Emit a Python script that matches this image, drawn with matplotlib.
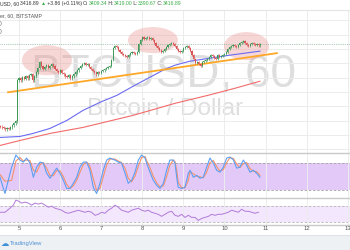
import matplotlib
matplotlib.use("Agg")
import matplotlib.pyplot as plt
from matplotlib.patches import Ellipse, Rectangle
from matplotlib.lines import Line2D

W, H = 350, 250

# ---- data (time in hours counted from day 4 00:00) ----
day_labels = ["5", "6", "7", "8", "9", "10", "11", "12", "13"]
day_hours = [24, 48, 72, 96, 120, 144, 168, 192, 216]

candle_start_hour = 13
first_open = 3133
closes = [
    3130, 3127, 3124, 3120, 3124, 3123, 3127, 3134, 3141, 3148,
    3291, 3298, 3291, 3302, 3295, 3305, 3298, 3309, 3312, 3291,
    3305, 3319, 3333, 3354, 3340, 3330, 3337, 3344, 3333, 3340,
    3347, 3340, 3330, 3323, 3319, 3326, 3316, 3312, 3305, 3302,
    3309, 3298, 3305, 3312, 3319, 3326, 3333, 3340, 3347, 3351,
    3344, 3347, 3337, 3330, 3323, 3319, 3312, 3319, 3316, 3323,
    3326, 3330, 3333, 3337, 3340, 3361, 3403, 3410, 3407, 3396,
    3389, 3382, 3379, 3375, 3372, 3379, 3386, 3389, 3386, 3382,
    3389, 3417, 3431, 3442, 3435, 3438, 3442, 3435, 3438, 3431,
    3421, 3410, 3403, 3396, 3389, 3393, 3400, 3407, 3414, 3417,
    3421, 3417, 3410, 3400, 3393, 3389, 3393, 3403, 3407, 3410,
    3403, 3393, 3379, 3365, 3351, 3354, 3347, 3340, 3354, 3358,
    3361, 3365, 3372, 3379, 3375, 3368, 3365, 3379, 3372, 3375,
    3379, 3382, 3389, 3400, 3407, 3410, 3414, 3410, 3407, 3414,
    3421, 3424, 3428, 3421, 3414, 3410, 3417, 3421, 3417, 3414,
    3417, 3413, 3416.89,
]
last_price = 3416.89

ma100_hours = [12.9, 24.6, 32.2, 42.1, 52.0, 61.4, 71.3, 81.2, 90.6, 100.5,
               109.2, 115.1, 123.8, 135.5, 147.2, 164.7]
ma100_values = [3092, 3095.5, 3106, 3123.5, 3151.5, 3186.5, 3214.5, 3239, 3270.5,
                3302, 3330, 3344, 3358, 3368.5, 3379, 3393]
ma200_hours = [12.9, 24.6, 42.1, 61.4, 90.6, 115.1, 134.4, 150.1, 164.7]
ma200_values = [3064, 3081.5, 3106, 3127, 3169, 3211, 3239, 3263.5, 3288]

trend_hours = [17.6, 174.6]
trend_values = [3249.5, 3386]

# highlighted tops: (hour, price, width in hours, height in price)
tops = [(40.3, 3361.5, 29.2, 105), (102.2, 3431.5, 29.2, 91), (156.8, 3410.5, 26.3, 98)]

stoch_hours = [12.9, 15.8, 19.7, 22.2, 24.6, 26.5, 28.5, 30.4, 32.4, 34.3,
               36.3, 38.2, 40.1, 42.1, 44.0, 46.0, 47.9, 49.9, 51.8, 53.8,
               55.7, 57.7, 59.6, 61.6, 63.5, 65.4, 67.4, 69.3, 71.3, 73.2,
               75.2, 77.1, 80.0, 82.0, 83.9, 85.9, 87.8, 89.8, 91.7, 93.7,
               95.6, 97.6, 98.5, 100.5, 102.4, 104.4, 106.3, 108.3, 110.2, 112.1,
               114.1, 115.1, 116.1, 117.0, 119.0, 120.9, 122.9, 123.9, 125.8, 127.8,
               129.7, 131.6, 133.6, 135.5, 137.5, 139.4, 141.4, 143.3, 145.3, 147.2,
               149.2, 151.1, 153.0, 155.0, 156.9, 158.9, 160.8, 162.8, 164.7]
stoch_k = [48.9, 13.3, 71.1, 97.8, 86.7, 82.2, 91.1, 80, 48.9, 71.1,
           82.2, 80, 57.8, 46.7, 57.8, 68.9, 57.8, 42.2, 24.4, 24.4,
           35.6, 48.9, 71.1, 82.2, 82.2, 64.4, 26.7, 13.3, 35.6, 64.4,
           86.7, 91.1, 86.7, 82.2, 80, 57.8, 35.6, 42.2, 60, 86.7,
           97.8, 91.1, 80, 60, 42.2, 31.1, 24.4, 35.6, 64.4, 86.7,
           86.7, 80, 48.9, 26.7, 24.4, 26.7, 57.8, 64.4, 48.9, 53.3,
           46.7, 48.9, 71.1, 91.1, 80, 64.4, 60, 71.1, 91.1, 93.3,
           86.7, 68.9, 71.1, 86.7, 75.6, 60, 64.4, 57.8, 48.9]
stoch_d = [55, 40, 42.2, 84.5, 92.3, 84.5, 86.7, 85.6, 64.5, 60,
           76.7, 81.1, 68.9, 52.3, 52.3, 63.4, 63.4, 50, 33.3, 24.4,
           30, 42.3, 60, 76.7, 82.2, 73.3, 45.6, 20, 24.5, 50,
           75.6, 88.9, 88.9, 84.5, 81.1, 68.9, 46.7, 38.9, 51.1, 73.4,
           92.3, 94.5, 85.6, 70, 51.1, 36.7, 27.8, 30, 50, 75.6,
           86.7, 83.4, 64.5, 37.8, 25.6, 25.6, 42.3, 61.1, 56.7, 51.1,
           50, 47.8, 60, 81.1, 85.6, 72.2, 62.2, 65.6, 81.1, 92.2,
           90, 77.8, 70, 78.9, 81.2, 67.8, 62.2, 61.1, 53.4]

rsi_hours = [12.9, 15.8, 18.7, 20.7, 22.2, 23.6, 25.5, 27.5, 29.4, 31.4,
             33.3, 35.3, 37.2, 39.2, 41.1, 43.1, 45.0, 47.0, 48.9, 50.8,
             52.8, 54.7, 56.7, 58.6, 60.6, 62.5, 64.5, 66.4, 68.4, 70.3,
             72.3, 74.2, 76.1, 78.1, 80.0, 82.0, 83.9, 85.9, 87.8, 89.8,
             91.7, 93.7, 95.6, 97.6, 99.5, 101.4, 103.4, 105.3, 107.3, 109.2,
             111.2, 113.1, 115.1, 117.0, 119.0, 120.9, 122.9, 124.8, 126.8, 128.7,
             130.7, 132.6, 134.6, 136.5, 138.5, 140.4, 142.3, 144.3, 146.2, 148.2,
             150.1, 152.1, 154.0, 156.0, 157.9, 159.9, 161.8, 163.8]
rsi_values = [55, 55, 65, 72.5, 85, 82.5, 77.5, 80, 77.5, 72.5,
              77.5, 75, 77.5, 72.5, 67.5, 70, 65, 62.5, 60, 55,
              52.5, 55, 57.5, 60, 57.5, 55, 57.5, 55, 47.5, 50,
              55, 52.5, 60, 65, 72.5, 67.5, 60, 57.5, 55, 60,
              62.5, 65, 60, 57.5, 60, 55, 52.5, 50, 45, 50,
              55, 57.5, 47.5, 45, 50, 42.5, 47.5, 42.5, 42.5, 35,
              40, 42.5, 45, 50, 47.5, 50, 50, 52.5, 55, 60,
              57.5, 55, 62.5, 57.5, 57.5, 55, 52.5, 55]

# ---- layout ----
fig = plt.figure(figsize=(W / 100, H / 100), dpi=100)
fig.patch.set_facecolor("white")


def ax_at(top_px, bottom_px):
    return fig.add_axes([0, 1 - bottom_px / H, 1, (bottom_px - top_px) / H])


ax = ax_at(10, 152.5)
ax_st = ax_at(153, 197.5)
ax_rsi = ax_at(198, 224.5)

xlim = (12.9, 217.3)
grid_c = "#ececec"
for a in (ax, ax_st, ax_rsi):
    a.set_xlim(*xlim)
    a.set_xticks(day_hours)
    a.tick_params(left=False, bottom=False, labelleft=False, labelbottom=False)
    for s in a.spines.values():
        s.set_visible(False)
    a.grid(axis="x", color=grid_c, lw=0.7, zorder=0)

# main price pane
ax.set_ylim(3039.5, 3536.5)
ax.set_yticks(range(3050, 3550, 50))
ax.grid(axis="y", color=grid_c, lw=0.7, zorder=0)

sans = ["Liberation Sans", "DejaVu Sans"]
ax.text(0.467, 0.458, "BTCUSD, 60", transform=ax.transAxes, ha="center", va="baseline",
        fontsize=33, color="#dedede", family=sans, zorder=1)
ax.text(0.471, 0.261, "Bitcoin / Dollar", transform=ax.transAxes, ha="center", va="baseline",
        fontsize=17.5, color="#dedede", family=sans, zorder=1)

for hx, py, wx, hy in tops:
    ax.add_patch(Ellipse((hx, py), wx, hy, facecolor="#ec9a9a", alpha=0.4,
                         edgecolor="none", zorder=2))

ax.axhline(last_price, color="#8db89c", lw=0.6, ls=(0, (1, 1.2)), zorder=2)
ax.plot(ma200_hours, ma200_values, color="#f26b6b", lw=0.8, zorder=3)
ax.plot(ma100_hours, ma100_values, color="#6b6bf2", lw=0.8, zorder=3)
ax.plot(trend_hours, trend_values, color="#ffa726", lw=1.3, zorder=4)

opens = [first_open] + closes[:-1]
up_c, dn_c = "#3f9a5a", "#d95555"
for i, (o, c) in enumerate(zip(opens, closes)):
    h = candle_start_hour + i
    col = up_c if c >= o else dn_c
    lo, hi = min(o, c), max(o, c)
    ax.vlines(h, lo - 4, hi + 4, color=col, lw=0.5, zorder=5)
    ax.bar(h, max(hi - lo, 1.5), bottom=lo, width=0.65, color=col, lw=0, zorder=5)

# stochastic pane
ax_st.set_ylim(4.4, 102.2)
ax_st.axhspan(20, 80, color="#e2c9f8", lw=0, zorder=0.5)
for lv in (20, 80):
    ax_st.axhline(lv, color="#a3a3a3", lw=0.6, ls=(0, (3, 2)), zorder=1)
ax_st.plot(stoch_hours, stoch_d, color="#f5926a", lw=0.8, zorder=3)
ax_st.plot(stoch_hours, stoch_k, color="#5c9ff2", lw=0.8, zorder=4)

# RSI pane
ax_rsi.set_ylim(25, 90)
ax_rsi.axhspan(30, 70, color="#f3e7fd", lw=0, zorder=0.5)
for lv in (30, 70):
    ax_rsi.axhline(lv, color="#b5b5b5", lw=0.6, ls=(0, (3, 2)), zorder=1)
ax_rsi.plot(rsi_hours, rsi_values, color="#b07ad8", lw=0.7, zorder=3)

# separators
for ypx, col, lw in [(10, "#e3e5e8", 0.8), (152.5, "#c8cacc", 1.0),
                     (197.5, "#c8cacc", 1.0), (224.5, "#c8cacc", 1.0), (234.5, "#dfe2e6", 0.8)]:
    fig.add_artist(Line2D([0, 1], [1 - ypx / H] * 2, color=col, lw=lw))

# time axis labels
for h, lab in zip(day_hours, day_labels):
    xpx = (h - xlim[0]) / (xlim[1] - xlim[0]) * W
    fig.text(xpx / W, 1 - 229 / H, lab, ha="center", va="center", fontsize=4.2,
             color="#555555", family=sans)

# bottom bar
fig.add_artist(Rectangle((0, 0), 1, 1 - 235 / H, transform=fig.transFigure,
                         facecolor="#eef1f4", edgecolor="none"))
fig.text(1 / W, 1 - 243 / H, "\u2601", fontsize=6, color="#3d8fd6", va="center",
         family=["DejaVu Sans"])
fig.text(10 / W, 1 - 243 / H, "TradingView", fontsize=4.2, color="#4a8fd4", va="center",
         family=sans)

# header texts
renderer = fig.canvas.get_renderer()
green = "#3aae48"
dark = "#333333"


def chain(pieces, x0, ypx, size):
    x = x0
    for txt, col in pieces:
        t = fig.text(x / W, 1 - ypx / H, txt, color=col, fontsize=size, ha="left",
                     va="center", family=sans)
        x = t.get_window_extent(renderer).x1


chain([("USD, 60 ", dark), ("3416.89 ", dark), ("\u25b2", green), (" +3.86 (+0.11%) ", dark),
       ("O:", dark), ("3409.34", green), (" H:", dark), ("3419.00", green),
       (" L:", dark), ("3390.67", green), (" C:", dark), ("3416.89", green)], 0, 3.5, 3.7)

fig.text(0, 1 - 16 / H, "er, 60, BITSTAMP", fontsize=3.8, color="#555555", va="center",
         family=sans)
fig.text(0, 1 - 23.5 / H, ")", fontsize=3.8, color="#555555", va="center", family=sans)
fig.text(0, 1 - 31.5 / H, ")", fontsize=3.8, color="#555555", va="center", family=sans)

fig.savefig("out.png", dpi=100)
